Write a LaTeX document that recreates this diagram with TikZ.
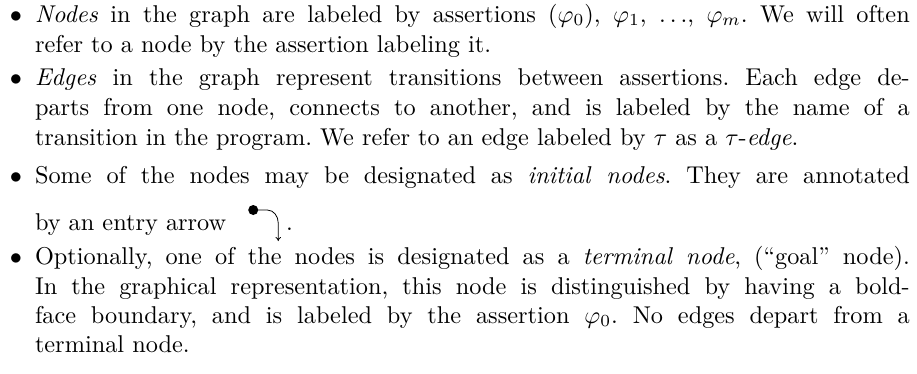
\documentclass[tikz,border=0pt]{standalone}
\usetikzlibrary{arrows.meta}

% one unit = 1pt, y grows downwards; text is set at 10pt and enlarged
\tikzset{
  txt/.style={anchor=base west, inner sep=0pt, outer sep=0pt,
              font=\fontsize{10}{12}\selectfont\frenchspacing, scale=2.43},
  bul/.style={anchor=base, inner sep=0pt, outer sep=0pt,
              font=\fontsize{10}{12}\selectfont, scale=2.43},
  entrydot/.style={circle, fill=black, inner sep=0pt, minimum size=10pt},
  entryarrow/.style={line width=0.8pt, -{To[length=4pt,width=5.5pt]}},
}
\newcommand{\fullline}[1]{\makebox[360pt][s]{#1}}

\begin{document}
\begin{tikzpicture}[x=1pt,y=-1pt]
\useasboundingbox (0,0) rectangle (917,373);

% first item
\node[bul] (b1) at (16,22) {$\bullet$};
\node[txt] (l1) at (35,22) {\fullline{\emph{Nodes} in the graph are labeled by assertions $(\varphi_0)$, $\varphi_1$, $\ldots$, $\varphi_m$. We will often}};
\node[txt] (l2) at (35,52) {refer to a node by the assertion labeling it.};

% second item
\node[bul] (b2) at (16,85) {$\bullet$};
\node[txt] (l3) at (35,85) {\fullline{\emph{Edges} in the graph represent transitions between assertions. Each edge de-}};
\node[txt] (l4) at (35,115) {\fullline{parts from one node, connects to another, and is labeled by the name of a}};
\node[txt] (l5) at (35,145) {transition in the program. We refer to an edge labeled by $\tau$ as a $\tau$-\emph{edge}.};

% third item, with the entry arrow
\node[bul] (b3) at (16,183) {$\bullet$};
\node[txt] (l6) at (35,183) {\fullline{Some of the nodes may be designated as \emph{initial nodes}. They are annotated}};
\node[txt] (l7) at (35,230) {by an entry arrow};
\node[entrydot] (dot) at ([shift={(27,-20)}]l7.base east) {};
\coordinate (bend) at ([shift={(25,0)}]dot.center);
\coordinate (tip) at ([shift={(25,31)}]dot.center);
\draw[entryarrow] (dot.center) -- ([shift={(-11,0)}]bend) to[out=0,in=90] ([shift={(0,-18)}]tip) -- (tip);
\node[txt] (stop) at ([shift={(8,0)}]tip |- l7.base) {.};

% fourth item
\node[bul] (b4) at (16,264) {$\bullet$};
\node[txt] (l8) at (35,264) {\fullline{Optionally, one of the nodes is designated as a \emph{terminal node}, (“goal” node).}};
\node[txt] (l9) at (35,294) {\fullline{In the graphical representation, this node is distinguished by having a bold-}};
\node[txt] (l10) at (35,323) {\fullline{face boundary, and is labeled by the assertion $\varphi_0$. No edges depart from a}};
\node[txt] (l11) at (35,352) {terminal node.};
\end{tikzpicture}
\end{document}
